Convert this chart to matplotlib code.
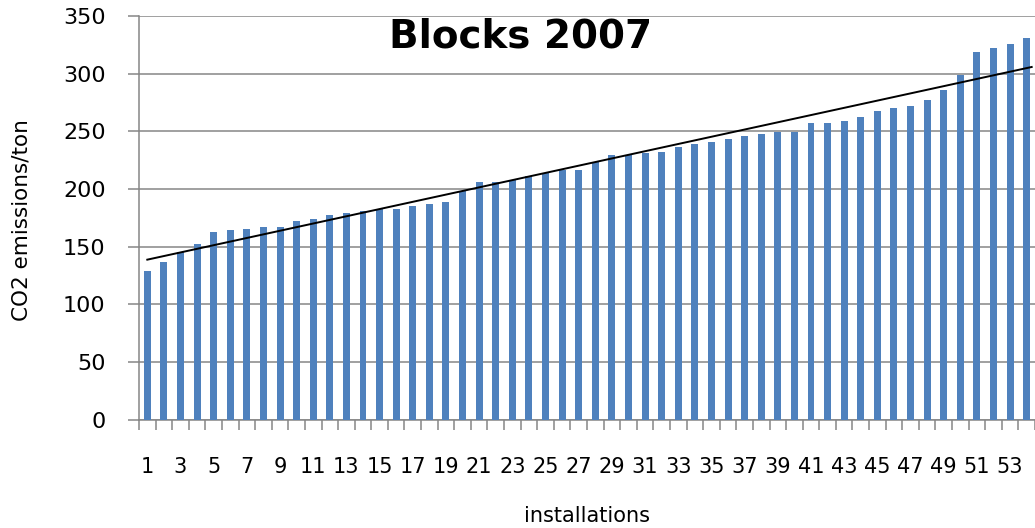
import matplotlib
matplotlib.use("Agg")
import matplotlib.pyplot as plt
import numpy as np

# ---- data ----
installations = list(range(1, 55))
emissions = [129, 137, 145, 152, 163, 164, 165, 167, 167, 172,
             174, 177, 179, 181, 183, 183, 185, 187, 189, 198,
             206, 206, 208, 211, 214, 216, 216, 223, 229, 229,
             231, 232, 236, 239, 241, 243, 246, 248, 249, 249,
             257, 257, 259, 262, 268, 270, 272, 277, 286, 299,
             319, 322, 326, 331]
tick_labels = [str(i) for i in installations if i % 2 == 1]
y_ticks = [0, 50, 100, 150, 200, 250, 300, 350]
title = "Blocks 2007"
x_label = "installations"
y_label = "CO2 emissions/ton"

W, H, DPI = 1035, 528, 100
fig = plt.figure(figsize=(W / DPI, H / DPI), dpi=DPI)
plt.rcParams['font.family'] = ['DejaVu Sans']

ax_left, ax_right = 139 / W, 1035 / W
ax_bottom, ax_top = 1 - 419.5 / H, 1 - 16 / H
ax = fig.add_axes([ax_left, ax_bottom, ax_right - ax_left, ax_top - ax_bottom])

grey = "#868686"
bar_color = "#4F81BD"

x = np.array(installations, dtype=float)
y = np.array(emissions, dtype=float)

ax.bar(x, y, width=0.42, color=bar_color, zorder=3)

# linear trend line
coef = np.polyfit(x, y, 1)
xt = np.array([1.0, 54.3])
ax.plot(xt, np.polyval(coef, xt), color="black", lw=1.4, zorder=4)

ax.set_xlim(0.5, 54.15)
ax.set_ylim(0, 350)

ax.set_yticks(y_ticks)
ax.set_yticklabels([str(v) for v in y_ticks], fontsize=16, color="black")
ax.yaxis.grid(True, color=grey, lw=1.1, zorder=0)
ax.tick_params(axis="y", length=8, width=1.1, color=grey, pad=16)

odd = [i for i in installations if i % 2 == 1]
ax.set_xticks(odd)
ax.set_xticklabels(tick_labels, fontsize=15, color="black")
ax.set_xticks(np.arange(0.5, 55, 1.0), minor=True)
ax.tick_params(axis="x", which="major", length=0, pad=27)
ax.tick_params(axis="x", which="minor", length=7, width=1.1, color=grey)

for s in ["top", "right"]:
    ax.spines[s].set_visible(False)
for s in ["left", "bottom"]:
    ax.spines[s].set_color(grey)
    ax.spines[s].set_linewidth(1.1)
ax.set_axisbelow(True)

fig.text(521 / W, 1 - 37 / H, title, fontsize=28, fontweight="bold",
         ha="center", va="center")
fig.text(587 / W, 1 - 516 / H, x_label, fontsize=15, ha="center", va="center")
fig.text(22 / W, 1 - 220 / H, y_label, fontsize=15.5, rotation=90,
         ha="center", va="center")

fig.savefig("out.png", dpi=DPI)
